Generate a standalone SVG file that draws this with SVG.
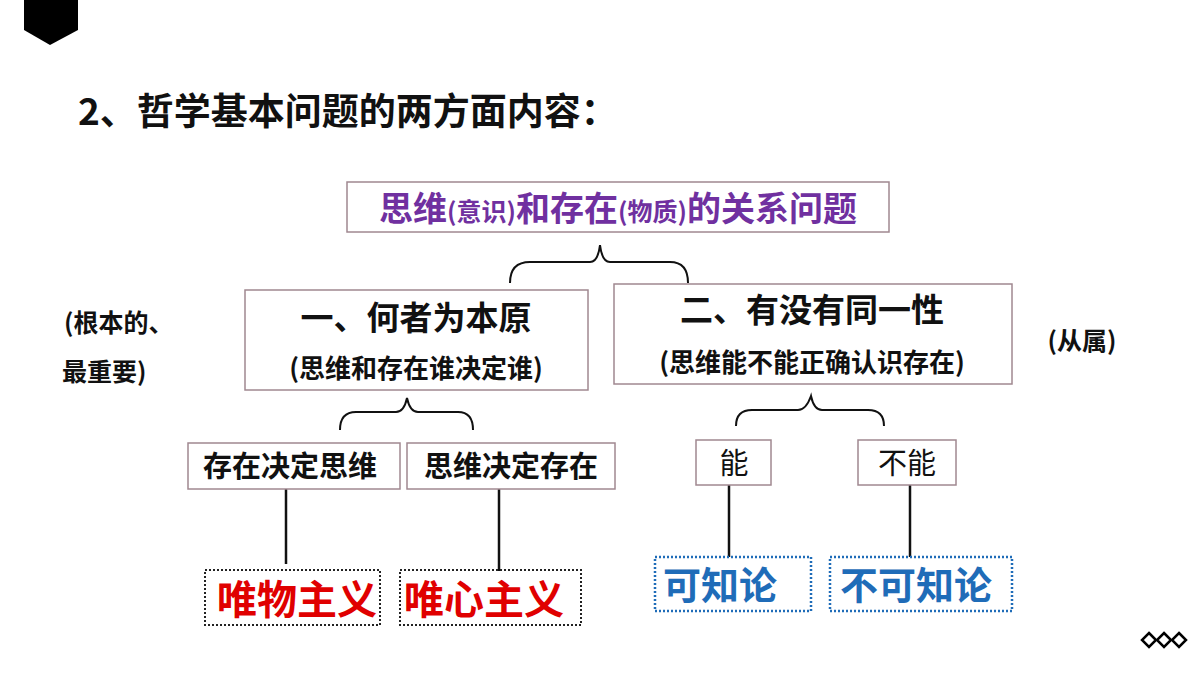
<svg xmlns="http://www.w3.org/2000/svg" width="1200" height="674" viewBox="0 0 1200 674">
<style>
text{font-family:"Noto Sans CJK SC","Liberation Sans",sans-serif;font-weight:bold;text-anchor:middle}
.box{fill:#fff;stroke:#a08890;stroke-width:1.5}
.dr{fill:none;stroke:#222;stroke-width:2;stroke-dasharray:2 2}
.db{fill:none;stroke:#1f6cb8;stroke-width:2.5;stroke-dasharray:2 2}
.ln{fill:none;stroke:#111;stroke-width:2.5}
.br{fill:none;stroke:#111;stroke-width:2}
</style>
<rect width="1200" height="674" fill="#fff"/>
<polygon points="24,0 78,0 78,30 50,45 24,30" fill="#000"/>
<g fill="none" stroke="#000" stroke-width="2.5">
<polygon points="1149,633 1156,640 1149,647 1142,640"/>
<polygon points="1164,633 1171,640 1164,647 1157,640"/>
<polygon points="1179,633 1186,640 1179,647 1172,640"/>
</g>
<text x="78" y="125" font-size="37" style="text-anchor:start" fill="#111">2、哲学基本问题的两方面内容：</text>
<text x="64" y="332" font-size="25" style="text-anchor:start" fill="#111">(根本的、</text>
<text x="62" y="381" font-size="25" style="text-anchor:start" fill="#111">最重要)</text>
<text x="1082" y="350" font-size="25" fill="#111">(从属)</text>
<g id="connectors">
<path class="br" d="M510,283 Q510,262 530,262 L590,262 Q598,262 600,245 Q602,262 610,262 L670,262 Q688,262 688,283"/>
<path class="br" d="M340,430 Q340,412 356,412 L396,412 Q404,412 407,398 Q410,412 418,412 L458,412 Q473,412 473,430"/>
<path class="br" d="M736,426 Q736,410 752,410 L798,410 Q806,410 811,396 Q814,410 822,410 L868,410 Q884,410 884,426"/>
<line class="ln" x1="286" y1="488" x2="286" y2="564"/>
<line class="ln" x1="499" y1="489" x2="499" y2="571"/>
<line class="ln" x1="729" y1="485" x2="729" y2="557"/>
<line class="ln" x1="910" y1="485" x2="910" y2="557"/>
</g>
<g id="top"><rect class="box" x="347" y="182" width="542" height="50"/>
<text x="618" y="221" font-size="34" fill="#7030a0">思维<tspan font-size="25">(意识)</tspan>和存在<tspan font-size="25">(物质)</tspan>的关系问题</text></g>
<g id="n1"><rect class="box" x="245" y="290" width="343" height="100"/>
<text x="416" y="330" font-size="33" fill="#111">一、何者为本原</text>
<text x="416" y="378" font-size="26" fill="#111">(思维和存在谁决定谁)</text></g>
<g id="n2"><rect class="box" x="614" y="284" width="398" height="100"/>
<text x="812" y="322" font-size="33" fill="#111">二、有没有同一性</text>
<text x="812" y="372" font-size="26" fill="#111">(思维能不能正确认识存在)</text></g>
<g id="a1"><rect class="box" x="188" y="443" width="212" height="46"/><text x="290" y="477" font-size="29" fill="#111">存在决定思维</text></g>
<g id="a2"><rect class="box" x="407" y="443" width="208" height="46"/><text x="511" y="477" font-size="29" fill="#111">思维决定存在</text></g>
<g id="b1"><rect class="box" x="696" y="440" width="75" height="45"/><text x="734" y="474" font-size="29" style="font-weight:normal" fill="#111">能</text></g>
<g id="b2"><rect class="box" x="858" y="440" width="98" height="45"/><text x="907" y="474" font-size="29" style="font-weight:normal" fill="#111">不能</text></g>
<g id="c1"><rect class="dr" x="205" y="570" width="175" height="55"/><text x="297" y="614" font-size="40" fill="#e00000">唯物主义</text></g>
<g id="c2"><rect class="dr" x="400" y="570" width="181" height="55"/><text x="484" y="614" font-size="40" fill="#e00000">唯心主义</text></g>
<g id="c3"><rect class="db" x="655" y="557" width="156" height="54"/><text x="720" y="599" font-size="38" fill="#1f6cb8">可知论</text></g>
<g id="c4"><rect class="db" x="830" y="557" width="182" height="54"/><text x="916" y="599" font-size="38" fill="#1f6cb8">不可知论</text></g>
</svg>
